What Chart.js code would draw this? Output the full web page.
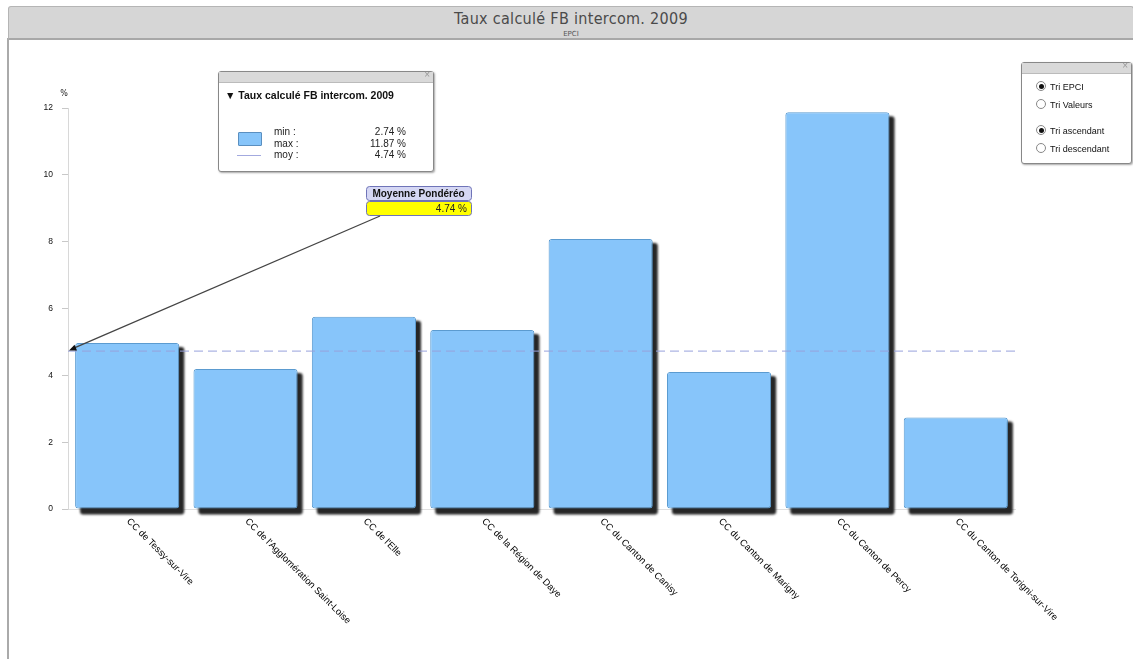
<!DOCTYPE html>
<html lang="fr">
<head>
<meta charset="utf-8">
<script src="https://cdn.jsdelivr.net/npm/chart.js@4/dist/chart.umd.min.js"></script>
<style>
  body { margin: 0; width: 1133px; height: 659px; background: #fff; font-family: "DejaVu Sans", sans-serif; overflow: hidden; position: relative; }
  #frame { position: absolute; left: 7px; top: 38px; width: 2px; height: 621px; background: #aaa; }
  #header { position: absolute; left: 8px; top: 6px; width: 1124px; height: 31px; background: #d6d6d6; border: 1px solid #b5b5b5; border-bottom: 2px solid #a8a8a8; border-radius: 3px 3px 0 0; text-align: center; }
  #header .t { font-family: "DejaVu Sans Condensed", "DejaVu Sans", sans-serif; font-size: 16px; color: #4a4a4a; margin-top: 2px; letter-spacing: 0.3px; }
  #header .s { font-size: 7px; color: #555; margin-top: 2px; }
  canvas { position: absolute; left: 0; top: 0; }
  .box { position: absolute; background: #fff; border: 1px solid #888; border-radius: 3px; box-shadow: 1px 1px 2px rgba(0,0,0,0.35); font-family: "Liberation Sans", sans-serif; }
  .box .bar { height: 10px; background: #d9d9d9; border-bottom: 1px solid #bbb; position: relative; }
  .box .bar span { position: absolute; right: 3px; top: -3px; font-size: 10px; color: #999; }
  #legend { left: 218px; top: 71px; width: 214px; height: 99px; }
  #legend .h { font-weight: bold; font-size: 10.5px; color: #111; margin: 6px 0 0 6px; }
  #legend .sw { position: absolute; left: 19px; top: 60px; width: 22px; height: 12px; background: #87c5fa; border: 1px solid #5a8fc0; border-radius: 1px; }
  #legend .ln { position: absolute; left: 18px; top: 83px; width: 24px; height: 0; border-top: 1px solid #a3aadf; }
  #legend .rows { position: absolute; left: 55px; top: 54px; width: 132px; font-size: 10px; color: #222; line-height: 11.5px; }
  #legend .rows div { display: flex; justify-content: space-between; }
  #sort { left: 1021px; top: 62px; width: 109px; height: 100px; }
  #sort .opt { position: absolute; left: 14px; font-size: 9px; color: #111; }
  #sort .opt i { display: inline-block; width: 8px; height: 8px; border: 1px solid #888; border-radius: 50%; vertical-align: -1px; margin-right: 4px; position: relative; background: #fff; }
  #sort .opt i.on::after { content: ""; position: absolute; left: 1.5px; top: 1.5px; width: 5px; height: 5px; border-radius: 50%; background: #111; }
</style>
</head>
<body>
<div id="frame"></div>
<div id="header"><div class="t">Taux calculé FB intercom. 2009</div><div class="s">EPCI</div></div>
<canvas id="chart" width="1133" height="659"></canvas>

<div id="legend" class="box">
  <div class="bar"><span>×</span></div>
  <div class="h">▼ Taux calculé FB intercom. 2009</div>
  <div class="sw"></div>
  <div class="ln"></div>
  <div class="rows">
    <div><span>min :</span><span id="vmin"></span></div>
    <div><span>max :</span><span id="vmax"></span></div>
    <div><span>moy :</span><span id="vmoy"></span></div>
  </div>
</div>

<div id="sort" class="box">
  <div class="bar"><span>×</span></div>
  <div class="opt" style="top:18px"><i class="on"></i>Tri EPCI</div>
  <div class="opt" style="top:36px"><i></i>Tri Valeurs</div>
  <div class="opt" style="top:62px"><i class="on"></i>Tri ascendant</div>
  <div class="opt" style="top:80px"><i></i>Tri descendant</div>
</div>

<script>
const epci = [
  "CC de Tessy-sur-Vire",
  "CC de l'Agglomération Saint-Loise",
  "CC de l'Elle",
  "CC de la Région de Daye",
  "CC du Canton de Canisy",
  "CC du Canton de Marigny",
  "CC du Canton de Percy",
  "CC du Canton de Torigni-sur-Vire"
];
const taux = [4.97, 4.19, 5.75, 5.36, 8.08, 4.10, 11.87, 2.74];
const moyenne = 4.74;
const yTicks = [0, 2, 4, 6, 8, 10, 12];

const fmt = v => v.toFixed(2) + " %";
document.getElementById("vmin").textContent = fmt(Math.min(...taux));
document.getElementById("vmax").textContent = fmt(Math.max(...taux));
document.getElementById("vmoy").textContent = fmt(moyenne);

// dark drop shadow behind each bar, taken from the bar elements
const barShadow = {
  id: "barShadow",
  beforeDatasetsDraw(chart) {
    const c = chart.ctx;
    c.save();
    c.fillStyle = "#262626";
    c.filter = "blur(1.2px)";
    chart.getDatasetMeta(0).data.forEach(bar => {
      const p = bar.getProps(["x", "y", "base", "width"], true);
      c.beginPath();
      c.roundRect(p.x - p.width / 2 + 5, p.y + 4, p.width, p.base - p.y + 2, 3);
      c.fill();
    });
    c.restore();
  }
};

// mean line, annotation with arrow, rotated category labels
const extras = {
  id: "extras",
  afterDraw(chart) {
    const c = chart.ctx, x = chart.scales.x, y = chart.scales.y, a = chart.chartArea;
    const ym = y.getPixelForValue(moyenne);

    c.save();
    c.strokeStyle = "#98a2dc";
    c.lineWidth = 1;
    c.setLineDash([9, 5]);
    c.beginPath();
    c.moveTo(a.left, ym + 0.5);
    c.lineTo(a.right, ym + 0.5);
    c.stroke();
    c.restore();

    // "%" unit
    c.save();
    c.font = "8px 'DejaVu Sans', sans-serif";
    c.fillStyle = "#222";
    c.textAlign = "center";
    c.fillText("%", a.left - 4, a.top - 12);
    c.restore();

    // annotation boxes
    const bx = a.left + 298, by = a.top + 78, bw = 105;
    c.save();
    c.font = "bold 10px 'Liberation Sans', sans-serif";
    c.lineWidth = 1;
    c.fillStyle = "#d5d7f4";
    c.strokeStyle = "#6f74b8";
    c.beginPath();
    c.roundRect(bx + 0.5, by + 0.5, bw, 14, 3);
    c.fill(); c.stroke();
    c.fillStyle = "#111";
    c.textAlign = "center";
    c.textBaseline = "middle";
    c.fillText("Moyenne Pondéréo", bx + bw / 2, by + 8);
    c.fillStyle = "#ffff00";
    c.beginPath();
    c.roundRect(bx + 0.5, by + 15.5, bw, 14, 3);
    c.fill(); c.stroke();
    c.font = "10px 'Liberation Sans', sans-serif";
    c.fillStyle = "#222";
    c.textAlign = "right";
    c.fillText(fmt(moyenne), bx + bw - 4, by + 23);

    // arrow to the mean on the axis
    const sx = bx + 14, sy = by + 30, ex = a.left + 1, ey = ym;
    c.strokeStyle = "#444";
    c.lineWidth = 1.3;
    c.beginPath();
    c.moveTo(sx, sy);
    c.lineTo(ex + 6, ey - 3);
    c.stroke();
    const ang = Math.atan2(ey - sy, ex - sx);
    c.fillStyle = "#111";
    c.beginPath();
    c.moveTo(ex, ey);
    c.lineTo(ex - 8 * Math.cos(ang - 0.4), ey - 8 * Math.sin(ang - 0.4));
    c.lineTo(ex - 8 * Math.cos(ang + 0.4), ey - 8 * Math.sin(ang + 0.4));
    c.closePath();
    c.fill();
    c.restore();

    // category labels going down to the right
    c.save();
    c.font = "9.5px 'Liberation Sans', sans-serif";
    c.fillStyle = "#000";
    c.textAlign = "left";
    c.textBaseline = "middle";
    epci.forEach((lab, i) => {
      const px = x.getPixelForValue(i);
      c.save();
      c.translate(px + 1, a.bottom + 11);
      c.rotate(Math.PI / 4);
      c.fillText(lab, 0, 0);
      c.restore();
    });
    c.restore();
  }
};

new Chart(document.getElementById("chart"), {
  type: "bar",
  data: {
    labels: epci,
    datasets: [{
      label: "Taux calculé FB intercom. 2009",
      data: taux,
      backgroundColor: "#87c5fa",
      borderColor: "#5b9bd0",
      borderWidth: 1,
      borderRadius: 3,
      borderSkipped: false,
      categoryPercentage: 0.88,
      barPercentage: 1
    }]
  },
  options: {
    responsive: false,
    animation: false,
    layout: { padding: { left: 0, right: 118, top: 108, bottom: 0 } },
    plugins: { legend: { display: false }, tooltip: { enabled: false } },
    scales: {
      x: {
        grid: { display: false, drawTicks: true, tickLength: 5 },
        border: { color: "#e0e0e0" },
        ticks: { display: false },
        afterFit(s) { s.height = 150; }
      },
      y: {
        min: 0,
        max: 12,
        afterBuildTicks(s) { s.ticks = yTicks.map(v => ({ value: v })); },
        grid: { display: true, drawOnChartArea: false, tickLength: 6, color: "#c8c8c8" },
        border: { color: "#d8d8d8" },
        ticks: { color: "#111", font: { family: "'Liberation Sans', sans-serif", size: 8.5 }, padding: 9 },
        afterFit(s) { s.width = 68; }
      }
    }
  },
  plugins: [barShadow, extras]
});
</script>
</body>
</html>
